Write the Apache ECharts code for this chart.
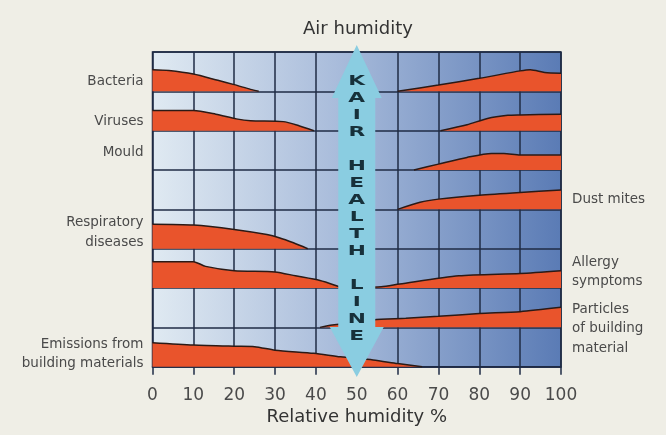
<!DOCTYPE html>
<html><head><meta charset="utf-8">
<script src="https://cdn.jsdelivr.net/npm/echarts@6/dist/echarts.min.js"></script>
<style>html,body{margin:0;padding:0;background:#efeee6}#c{width:666px;height:435px}</style>
</head><body><div id="c"></div>
<script>
// Row baselines (0 = bottom row, 7 = top row); heights as fraction of a row
const bacteriaLeft   = [[0,0.55],[4,0.53],[10,0.44],[16,0.28],[20,0.17],[24,0.05],[26,0]];
const bacteriaRight  = [[60,0],[70,0.16],[80,0.33],[90,0.52],[92.5,0.55],[96,0.48],[100,0.46]];
const virusesLeft    = [[0,0.51],[10,0.51],[15.5,0.42],[20.5,0.3],[24,0.25],[32,0.23],[36,0.12],[39.5,0]];
const virusesRight   = [[70.5,0],[77,0.15],[82,0.31],[87,0.39],[90,0.4],[100,0.42]];
const mouldRight     = [[64,0],[70,0.15],[77,0.32],[83,0.42],[86,0.42],[90,0.38],[100,0.38]];
const dustRight      = [[60,0],[65.5,0.18],[70,0.26],[80,0.36],[90,0.43],[100,0.49]];
const respLeft       = [[0,0.62],[10,0.6],[20,0.49],[28,0.36],[31,0.28],[34.5,0.15],[38,0]];
const allergyLeft    = [[0,0.67],[10,0.67],[13,0.55],[20,0.44],[30,0.41],[35,0.31],[41,0.19],[45,0.06],[46.5,0]];
const allergyRight   = [[50,0],[56,0.03],[60.5,0.1],[75,0.31],[90,0.37],[100,0.44]];
const particlesRight = [[41,0],[44,0.06],[54,0.19],[62,0.23],[70,0.28],[80,0.35],[90,0.4],[100,0.51]];
const emissionsLeft  = [[0,0.61],[10,0.55],[20,0.52],[25,0.51],[30,0.42],[39.5,0.34],[46,0.25],[54,0.17],[60,0.08],[66,0]];

const curveSets = [
  {row:7, pts:bacteriaLeft},{row:7, pts:bacteriaRight},
  {row:6, pts:virusesLeft},{row:6, pts:virusesRight},
  {row:5, pts:mouldRight},
  {row:4, pts:dustRight},
  {row:3, pts:respLeft},
  {row:2, pts:allergyLeft},{row:2, pts:allergyRight},
  {row:1, pts:particlesRight},
  {row:0, pts:emissionsLeft}
];

// Row labels: text, side (0 = left, 100 = right), vertical anchor in row units
const labelTexts = ['Bacteria','Viruses','Mould','Dust mites','Respiratory\ndiseases','Allergy\nsymptoms','Particles\nof building\nmaterial','Emissions from\nbuilding materials'];
const labelSides = [0,0,0,100,0,100,100,0];
const labelYs    = [7.24,6.24,5.45,4.26,3.41,2.41,0.96,0.32];

// Health arrow: x position, bottom and top in row units
const arrowX = 50, arrowBottom = -0.26, arrowTop = 8.18;
const arrowText = 'KAIR HEALTH LINE';

const FONT = 'DejaVu Sans';
const chart = echarts.init(document.getElementById('c'));
const series = curveSets.map(c => ({
  type:'line', symbol:'none', smooth:0.25, z:3,
  data: c.pts.map(p => [p[0], c.row + p[1]]),
  lineStyle:{color:'#2b1a16', width:1.5},
  areaStyle:{color:'#e9542c', opacity:1, origin:c.row}
}));
series.push({
  type:'custom', z:6, silent:true,
  data:[[arrowX, arrowBottom, arrowTop]],
  encode:{x:0, y:[1,2]},
  renderItem:(params, api) => {
    const t = api.coord([api.value(0), api.value(2)]);
    const b = api.coord([api.value(0), api.value(1)]);
    const cx = t[0], top = t[1], bot = b[1];
    const sw = 18.5, hw = 25, hl = 53, bhw = 27, bhl = 50;
    const children = [{
      type:'polygon',
      shape:{points:[[cx,top],[cx+hw,top+hl],[cx+sw,top+hl],[cx+sw,bot-bhl],[cx+bhw,bot-bhl],[cx,bot],[cx-bhw,bot-bhl],[cx-sw,bot-bhl],[cx-sw,top+hl],[cx-hw,top+hl]]},
      style:{fill:'#8acde1'}
    }];
    arrowText.split('').forEach((ch, i) => {
      if (ch === ' ') return;
      children.push({type:'text', x:cx, y:top+36.7+17*i, scaleX:1.55,
        style:{text:ch, font:'bold 14px "DejaVu Sans"', fill:'#17303a', align:'center', verticalAlign:'middle'}});
    });
    return {type:'group', children};
  }
});
series.push({
  type:'custom', z:4, silent:true,
  data: labelSides.map((s,i) => [s, labelYs[i], i]),
  renderItem:(params, api) => {
    const p = api.coord([api.value(0), api.value(1)]);
    const left = api.value(0) === 0;
    return {type:'text', x: left ? p[0]-9 : p[0]+11, y:p[1],
      style:{text:labelTexts[api.value(2)], font:'13.5px "DejaVu Sans"', fill:'#4a4a4a',
        align: left ? 'right' : 'left', verticalAlign:'middle', lineHeight:19.5}};
  }
});

chart.setOption({
  backgroundColor:'#efeee6',
  animation:false,
  textStyle:{fontFamily:FONT},
  graphic:[{type:'text', x:358, y:20, style:{text:'Air humidity', font:'18px "DejaVu Sans"', fill:'#333', align:'center'}}],
  grid:{left:152.5, right:105, top:52, bottom:68.3, show:true, borderColor:'#1f2b45', borderWidth:1.5,
    backgroundColor:{type:'linear', x:0, y:0, x2:1, y2:0, colorStops:[
      {offset:0, color:'#e0eaf2'},{offset:0.45, color:'#a9bcdb'},{offset:1, color:'#5a7bb5'}]}},
  xAxis:{type:'value', min:0, max:100, interval:10,
    name:'Relative humidity %', nameLocation:'middle', nameGap:32,
    nameTextStyle:{fontSize:18, color:'#333', fontFamily:FONT},
    axisLine:{show:true, lineStyle:{color:'#1f2b45', width:1.5}},
    axisTick:{show:true, length:8, lineStyle:{color:'#1f2b45', width:1.5}},
    axisLabel:{fontSize:17, color:'#4a4a4a', margin:20, fontFamily:FONT},
    splitLine:{show:true, lineStyle:{color:'#1f2b45', width:1.5}}},
  yAxis:{type:'value', min:0, max:8, interval:1,
    axisLine:{show:false}, axisTick:{show:false}, axisLabel:{show:false},
    splitLine:{show:true, lineStyle:{color:'#1f2b45', width:1.5}}},
  series
});
</script></body></html>
